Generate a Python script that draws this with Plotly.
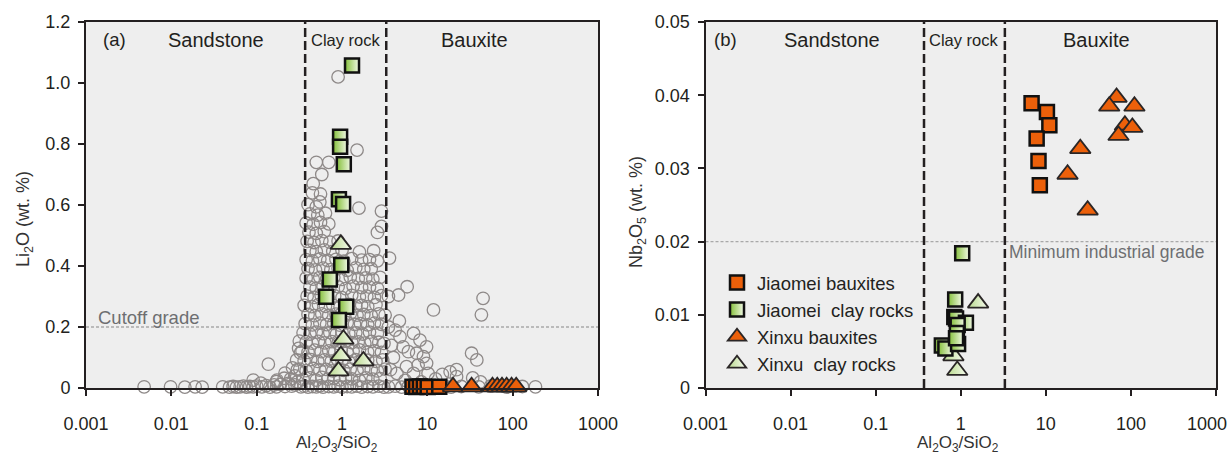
import math
import plotly.graph_objects as go

# ---------------- data ----------------
# Panel (a) literature database: (Al2O3/SiO2, Li2O wt.%)
db_points = [
    (0.0048, 0.004), (0.0098, 0.004), (0.0144, 0.003), (0.019, 0.004), (0.023, 0.003),
    (0.040, 0.004), (0.048, 0.003), (0.053, 0.005), (0.058, 0.003), (0.064, 0.004), (0.07, 0.006),
    (0.076, 0.003), (0.083, 0.005), (0.091, 0.004), (0.10, 0.006), (0.115, 0.004), (0.13, 0.008),
    (0.143, 0.003), (0.16, 0.010), (0.171, 0.004), (0.19, 0.012), (0.215, 0.005), (0.235, 0.015),
    (0.257, 0.006), (0.28, 0.010), (0.30, 0.020),
    (0.137, 0.078), (0.091, 0.026), (0.112, 0.016), (0.173, 0.026), (0.215, 0.049), (0.263, 0.066),
    (0.294, 0.092), (0.326, 0.115), (0.316, 0.154), (0.17, 0.021), (0.21, 0.032), (0.28, 0.040),
    (0.25, 0.030), (0.30, 0.060), (0.31, 0.130),
    (0.33, 0.004), (0.36, 0.006), (0.40, 0.003), (0.45, 0.005), (0.50, 0.004), (0.55, 0.007),
    (0.60, 0.003), (0.70, 0.005), (0.80, 0.004), (0.90, 0.006), (1.00, 0.003), (1.15, 0.005),
    (1.30, 0.004), (1.50, 0.006), (1.70, 0.003), (2.00, 0.005), (2.30, 0.004), (2.70, 0.006), (3.10, 0.003),
    (0.35, 0.028), (0.42, 0.033), (0.50, 0.026), (0.58, 0.035), (0.68, 0.029), (0.80, 0.032),
    (0.95, 0.027), (1.10, 0.034), (1.30, 0.030), (1.60, 0.025), (1.90, 0.033), (2.30, 0.029), (2.80, 0.031),
    (0.32, 0.062), (0.38, 0.057), (0.46, 0.064), (0.55, 0.059), (0.65, 0.061), (0.78, 0.056),
    (0.92, 0.063), (1.05, 0.058), (1.25, 0.062), (1.50, 0.057), (1.80, 0.064), (2.20, 0.060),
    (2.60, 0.056), (3.20, 0.062),
    (0.36, 0.089), (0.43, 0.093), (0.52, 0.087), (0.62, 0.092), (0.75, 0.088), (0.88, 0.094),
    (1.00, 0.090), (1.20, 0.086), (1.45, 0.093), (1.70, 0.089), (2.00, 0.091), (2.50, 0.087), (3.00, 0.092),
    (0.34, 0.121), (0.40, 0.117), (0.48, 0.124), (0.57, 0.119), (0.70, 0.122), (0.82, 0.118),
    (0.98, 0.123), (1.15, 0.116), (1.35, 0.121), (1.60, 0.125), (2.00, 0.118), (2.40, 0.122), (2.90, 0.117),
    (0.38, 0.151), (0.45, 0.147), (0.53, 0.153), (0.63, 0.148), (0.76, 0.152), (0.90, 0.146),
    (1.10, 0.154), (1.30, 0.149), (1.55, 0.151), (1.85, 0.147), (2.20, 0.153), (2.70, 0.150), (3.10, 0.146),
    (0.35, 0.181), (0.42, 0.177), (0.50, 0.183), (0.60, 0.178), (0.72, 0.182), (0.86, 0.176),
    (1.00, 0.184), (1.20, 0.179), (1.45, 0.181), (1.75, 0.177), (2.10, 0.183), (2.60, 0.179),
    (0.37, 0.211), (0.45, 0.207), (0.55, 0.213), (0.66, 0.208), (0.80, 0.212), (0.95, 0.206),
    (1.15, 0.214), (1.40, 0.209), (1.65, 0.211), (2.00, 0.207), (2.40, 0.213), (2.90, 0.209),
    (0.40, 0.241), (0.48, 0.237), (0.58, 0.243), (0.70, 0.238), (0.85, 0.242), (1.05, 0.236),
    (1.25, 0.244), (1.50, 0.239), (1.80, 0.241), (2.20, 0.237), (2.70, 0.243), (3.20, 0.239),
    (0.36, 0.271), (0.44, 0.267), (0.53, 0.273), (0.64, 0.268), (0.78, 0.272), (0.95, 0.266),
    (1.20, 0.274), (1.45, 0.269), (1.70, 0.271), (2.00, 0.267), (2.50, 0.273),
    (0.39, 0.301), (0.47, 0.297), (0.57, 0.303), (0.68, 0.298), (0.82, 0.302), (1.00, 0.296),
    (1.30, 0.304), (1.60, 0.299), (1.95, 0.301), (2.40, 0.297), (2.90, 0.303),
    (0.42, 0.331), (0.50, 0.327), (0.60, 0.333), (0.72, 0.328), (0.90, 0.332), (1.10, 0.326),
    (1.35, 0.334), (1.70, 0.329), (2.10, 0.331), (2.60, 0.327),
    (0.38, 0.361), (0.46, 0.357), (0.55, 0.363), (0.66, 0.358), (0.80, 0.362), (1.00, 0.356),
    (1.25, 0.364), (1.55, 0.359), (1.90, 0.361), (2.30, 0.357), (2.80, 0.363),
    (0.40, 0.391), (0.49, 0.387), (0.60, 0.393), (0.74, 0.388), (0.90, 0.392), (1.15, 0.386),
    (1.45, 0.394), (1.80, 0.389), (2.20, 0.391),
    (0.38, 0.421), (0.45, 0.417), (0.55, 0.423), (0.68, 0.418), (0.85, 0.422), (1.05, 0.416),
    (1.30, 0.424), (1.70, 0.419), (2.10, 0.421), (2.60, 0.417),
    (0.42, 0.451), (0.50, 0.447), (0.62, 0.453), (0.78, 0.448), (1.00, 0.452), (1.60, 0.446), (2.35, 0.450),
    (0.39, 0.481), (0.47, 0.477), (0.58, 0.483), (0.72, 0.478), (0.90, 0.482),
    (0.41, 0.511), (0.50, 0.507), (0.62, 0.513), (2.60, 0.510),
    (0.38, 0.541), (0.46, 0.537), (0.56, 0.543), (0.70, 0.538), (2.90, 0.530),
    (0.42, 0.571), (0.52, 0.567), (0.64, 0.573),
    (0.40, 0.601), (0.50, 0.594), (1.58, 0.590), (2.90, 0.580), (0.55, 0.610),
    (0.45, 0.640), (0.56, 0.636), (0.46, 0.670), (0.58, 0.700), (0.50, 0.740), (0.70, 0.740),
    (0.90, 1.020), (1.50, 0.780),
    (3.6, 0.426), (5.8, 0.332), (4.6, 0.305), (11.8, 0.256), (45, 0.294), (43, 0.240), (4.7, 0.220),
    (33, 0.114), (38, 0.092), (22, 0.060), (34, 0.033), (42, 0.020),
    (4.78, 0.168), (6.9, 0.179), (8.2, 0.157), (9.8, 0.135), (5.2, 0.135), (6.0, 0.119), (7.5, 0.114),
    (9.0, 0.103), (5.7, 0.070), (7.8, 0.075), (9.8, 0.081), (4.4, 0.048), (6.9, 0.048), (10.2, 0.048),
    (18.5, 0.053), (22, 0.037), (4.0, 0.100), (3.8, 0.140), (4.2, 0.190), (3.7, 0.060), (12.5, 0.030),
    (15, 0.045), (5.5, 0.025), (8.5, 0.020), (3.5, 0.300), (3.5, 0.200),
    (3.5, 0.004), (4.2, 0.006), (5.0, 0.003), (6.0, 0.005), (12, 0.004), (16, 0.006), (19, 0.003),
    (25, 0.005), (40, 0.004), (55, 0.006), (85, 0.003), (130, 0.005), (185, 0.004),
]

# Panel (a) study samples
ja_baux_ratio_a = [6.7, 7.4, 8.2, 9.1, 10.1, 13.8]
ja_baux_li2o_a = [0.004, 0.003, 0.005, 0.004, 0.003, 0.004]
ja_clay_ratio_a = [1.31, 0.95, 0.95, 1.05, 0.92, 1.03, 0.98, 0.72, 0.65, 1.12, 0.92]
ja_clay_li2o_a = [1.057, 0.824, 0.791, 0.734, 0.619, 0.603, 0.403, 0.356, 0.299, 0.266, 0.223]
xx_baux_ratio_a = [20, 33, 58, 66, 75, 85, 97, 110]
xx_baux_li2o_a = [0.004, 0.004, 0.004, 0.004, 0.004, 0.004, 0.004, 0.004]
xx_clay_ratio_a = [0.97, 1.04, 0.97, 1.78, 0.91]
xx_clay_li2o_a = [0.471, 0.160, 0.106, 0.089, 0.056]

# Panel (b) study samples
ja_baux_ratio_b = [6.8, 10.3, 11.0, 7.8, 8.2, 8.5]
ja_baux_nb_b = [0.0389, 0.0377, 0.0359, 0.0341, 0.0310, 0.0277]
ja_clay_ratio_b = [1.04, 0.86, 0.84, 0.88, 1.15, 0.92, 0.90, 0.60, 0.66, 0.93, 0.88]
ja_clay_nb_b = [0.0184, 0.0121, 0.0097, 0.0095, 0.0089, 0.0086, 0.0075, 0.0058, 0.0054, 0.0060, 0.0068]
xx_baux_ratio_b = [67.8, 55.6, 110, 85, 104, 71.5, 25.4, 18, 31]
xx_baux_nb_b = [0.0397, 0.0385, 0.0385, 0.0359, 0.0356, 0.0345, 0.0327, 0.0292, 0.0243]
xx_clay_ratio_b = [1.6, 0.82, 0.91]
xx_clay_nb_b = [0.0116, 0.0044, 0.0024]

# Lithology boundaries (Al2O3/SiO2) and grade lines
clay_lower = 0.37
bauxite_lower = 3.3
li_cutoff = 0.2
nb_min_grade = 0.02

x_tickvals = [0.001, 0.01, 0.1, 1, 10, 100, 1000]
xa_ticktext = ["0.001", "0.01", "0.1", "1", "10", "100", "1000"]
xb_ticktext = ["0.001", "0.01", "0.1", "1", "10", "100", ""]
xb_last_label = "1000"
ya_tickvals = [0, 0.2, 0.4, 0.6, 0.8, 1.0, 1.2]
ya_ticktext = ["0", "0.2", "0.4", "0.6", "0.8", "1.0", "1.2"]
yb_tickvals = [0, 0.01, 0.02, 0.03, 0.04, 0.05]
yb_ticktext = ["0", "0.01", "0.02", "0.03", "0.04", "0.05"]

# ---------------- style ----------------
DARK = "#231f20"
ORANGE = "#ec600a"
GREEN = "#84bf3a"
PALE = "#b8d98c"
CIRCLE = "#8e8988"
FONT = "Liberation Sans, Arial, sans-serif"

sq_a = dict(symbol="square", size=14, line=dict(color="#111111", width=2.5))
tri = dict(symbol="triangle-up", size=18, line=dict(color="#2a2626", width=1.8))

fig = go.Figure()

# ---- panel (a) ----
fig.add_trace(go.Scatter(
    x=[p[0] for p in db_points], y=[p[1] for p in db_points], mode="markers",
    marker=dict(symbol="circle-open", size=12.5, color=CIRCLE, line=dict(width=1.3)),
    xaxis="x", yaxis="y", showlegend=False, cliponaxis=False))
fig.add_trace(go.Scatter(
    x=xx_clay_ratio_a, y=xx_clay_li2o_a, mode="markers",
    marker=dict(color=PALE, gradient=dict(type="horizontal", color="#f7fbf0"), **tri),
    xaxis="x", yaxis="y", showlegend=False, cliponaxis=False))
fig.add_trace(go.Scatter(
    x=ja_clay_ratio_a, y=ja_clay_li2o_a, mode="markers",
    marker=dict(color=GREEN, gradient=dict(type="horizontal", color="#f2f9e6"), **sq_a),
    xaxis="x", yaxis="y", showlegend=False, cliponaxis=False))
fig.add_trace(go.Scatter(
    x=ja_baux_ratio_a, y=ja_baux_li2o_a, mode="markers",
    marker=dict(color=ORANGE, **sq_a),
    xaxis="x", yaxis="y", showlegend=False, cliponaxis=False))
fig.add_trace(go.Scatter(
    x=xx_baux_ratio_a, y=xx_baux_li2o_a, mode="markers",
    marker=dict(color=ORANGE, **tri),
    xaxis="x", yaxis="y", showlegend=False, cliponaxis=False))

# ---- panel (b) ----
fig.add_trace(go.Scatter(
    x=xx_clay_ratio_b, y=xx_clay_nb_b, mode="markers", name="Xinxu\u00a0 clay rocks",
    marker=dict(color=PALE, gradient=dict(type="horizontal", color="#f7fbf0"), **tri),
    xaxis="x2", yaxis="y2", legendrank=4, cliponaxis=False))
fig.add_trace(go.Scatter(
    x=ja_clay_ratio_b, y=ja_clay_nb_b, mode="markers", name="Jiaomei\u00a0 clay rocks",
    marker=dict(color=GREEN, gradient=dict(type="horizontal", color="#f2f9e6"), **sq_a),
    xaxis="x2", yaxis="y2", legendrank=2, cliponaxis=False))
fig.add_trace(go.Scatter(
    x=ja_baux_ratio_b, y=ja_baux_nb_b, mode="markers", name="Jiaomei bauxites",
    marker=dict(color=ORANGE, **sq_a),
    xaxis="x2", yaxis="y2", legendrank=1, cliponaxis=False))
fig.add_trace(go.Scatter(
    x=xx_baux_ratio_b, y=xx_baux_nb_b, mode="markers", name="Xinxu bauxites",
    marker=dict(color=ORANGE, **tri),
    xaxis="x2", yaxis="y2", legendrank=3, cliponaxis=False))

W, H = 1231, 453
xa_dom = [86 / W, 598 / W]
xb_dom = [705.5 / W, 1216 / W]
y_dom = [1 - 388 / H, 1 - 22 / H]

xaxis_common = dict(
    type="log", range=[-3, 3], tickvals=x_tickvals,
    showline=True, mirror=True, linecolor=DARK, linewidth=2,
    ticks="outside", ticklen=6, tickwidth=2, tickcolor=DARK,
    showgrid=False, zeroline=False, ticklabelstandoff=12, automargin=False,
    ticklabeloverflow="allow",
    tickfont=dict(family=FONT, size=18, color=DARK))
yaxis_common = dict(
    showline=True, mirror=True, linecolor=DARK, linewidth=2,
    ticks="outside", ticklen=6, tickwidth=2, tickcolor=DARK,
    showgrid=False, zeroline=False, ticklabelstandoff=4, automargin=False,
    tickfont=dict(family=FONT, size=18, color=DARK))

fig.update_layout(
    width=W, height=H, margin=dict(l=0, r=0, t=0, b=0, autoexpand=False),
    paper_bgcolor="white", plot_bgcolor="#eeeeee",
    xaxis=dict(domain=xa_dom, anchor="y", ticktext=xa_ticktext, **xaxis_common),
    yaxis=dict(domain=y_dom, anchor="x", range=[0, 1.2], tickvals=ya_tickvals,
               ticktext=ya_ticktext, **yaxis_common),
    xaxis2=dict(domain=xb_dom, anchor="y2", ticktext=xb_ticktext, **xaxis_common),
    yaxis2=dict(domain=y_dom, anchor="x2", range=[0, 0.05], tickvals=yb_tickvals,
                ticktext=yb_ticktext, **yaxis_common),
    legend=dict(x=717 / W, y=1 - 264 / H, xanchor="left", yanchor="top",
                bgcolor="rgba(0,0,0,0)", font=dict(family=FONT, size=18.5, color=DARK),
                itemsizing="trace", tracegroupgap=0),
    showlegend=True,
)

# boundaries and grade lines
shapes = []
for xr, yr in (("x", "y"), ("x2", "y2")):
    for xv in (clay_lower, bauxite_lower):
        shapes.append(dict(type="line", xref=xr, yref=yr + " domain", x0=xv, x1=xv, y0=0, y1=1,
                           line=dict(color=DARK, width=2.5, dash="9px,4px"), layer="above"))
shapes.append(dict(type="line", xref="x domain", yref="y", x0=0, x1=1, y0=li_cutoff, y1=li_cutoff,
                   line=dict(color="#a9a9a9", width=1.3, dash="3px,2px"), layer="below"))
shapes.append(dict(type="line", xref="x2 domain", yref="y2", x0=0, x1=1, y0=nb_min_grade, y1=nb_min_grade,
                   line=dict(color="#a9a9a9", width=1.3, dash="3px,2px"), layer="below"))
fig.update_layout(shapes=shapes)

ann = []
def label(text, xr, yr, x, y, size=19, color=DARK, xanchor="center", textangle=0):
    ann.append(dict(text=text, xref=xr, yref=yr, x=x, y=y, showarrow=False, xanchor=xanchor,
                    yanchor="middle", textangle=textangle,
                    font=dict(family=FONT, size=size, color=color)))

clay_mid = (math.log10(clay_lower) + math.log10(bauxite_lower)) / 2
for xr, yr, tag, xs, xb, xt in (("x", "y domain", "(a)", -1.48, 1.55, -2.67),
                                ("x2", "y2 domain", "(b)", -1.51, 1.60, -2.76)):
    label(tag, xr, yr, xt, 0.951, size=18.5)
    label("Sandstone", xr, yr, xs, 0.951, size=20)
    label("Clay rock", xr, yr, clay_mid, 0.951, size=16.5)
    label("Bauxite", xr, yr, xb, 0.951, size=20)

label("Cutoff grade", "x", "y", -2.88, 0.231, size=18.5, color="#6d6e71", xanchor="left")
label("Minimum industrial grade", "x2", "y2", 1.716, 0.0186, size=17.5, color="#6d6e71")

# last tick label of panel (b), kept inside the page as in the original
label(xb_last_label, "paper", "paper", 1229 / W, 1 - 424 / H, size=18, xanchor="right")

# axis titles
label("Al<sub>2</sub>O<sub>3</sub>/SiO<sub>2</sub>", "paper", "paper", 337 / W, 1 - 444 / H, size=17, color="#333333")
label("Al<sub>2</sub>O<sub>3</sub>/SiO<sub>2</sub>", "paper", "paper", 957.5 / W, 1 - 444 / H, size=17, color="#333333")
label("Li<sub>2</sub>O (wt.\u00a0%)", "paper", "paper", 24 / W, 1 - 219 / H, size=18, color="#333333", textangle=-90)
label("Nb<sub>2</sub>O<sub>5</sub> (wt.\u00a0%)", "paper", "paper", 638 / W, 1 - 212 / H, size=18, color="#333333", textangle=-90)
fig.update_layout(annotations=ann)

fig.write_html("out.html")
